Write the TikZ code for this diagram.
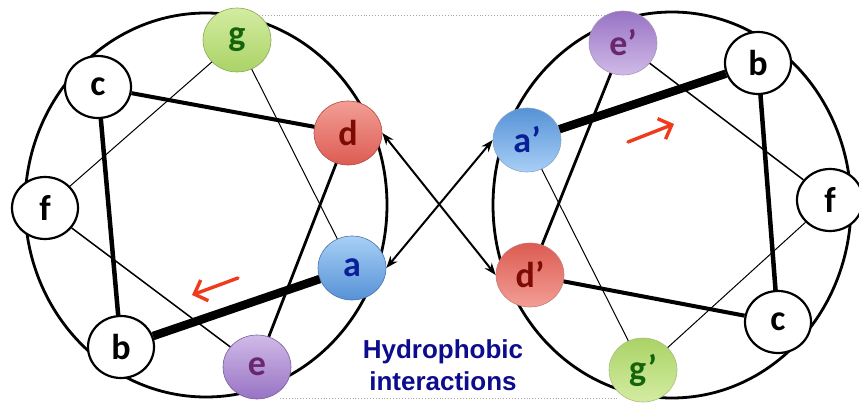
\documentclass[tikz,border=0pt]{standalone}
\usepackage{fontspec}
\setmainfont{Carlito}
\newfontfamily\hydfont{Liberation Sans}
\usetikzlibrary{arrows.meta,shapes.geometric}

\definecolor{gtop}{RGB}{212,236,162}
\definecolor{gbot}{RGB}{170,211,102}
\definecolor{gtxt}{RGB}{20,100,10}
\definecolor{dtop}{RGB}{243,158,150}
\definecolor{dbot}{RGB}{220,92,82}
\definecolor{dtxt}{RGB}{125,10,5}
\definecolor{atop}{RGB}{168,207,246}
\definecolor{abot}{RGB}{86,146,214}
\definecolor{atxt}{RGB}{10,30,150}
\definecolor{etop}{RGB}{208,186,232}
\definecolor{ebot}{RGB}{152,115,196}
\definecolor{etxt}{RGB}{105,40,110}
\definecolor{arrowred}{RGB}{240,58,28}
\definecolor{hydblue}{RGB}{12,12,140}

\begin{document}
\begin{tikzpicture}[x=1pt,y=-1pt,
  res/.style={ellipse,minimum width=68pt,minimum height=64pt,inner sep=0pt,
    font=\bfseries\fontsize{36}{36}\selectfont},
  wh/.style={res,draw,line width=2.2pt,fill=white,minimum width=66pt,minimum height=62pt},
  ballcol/.style n args={3}{res,draw=#2!80!black,line width=0.6pt,
    top color=#1,bottom color=#2,text=#3},
  gL/.style={ballcol={gtop}{gbot}{gtxt}},
  gR/.style={ballcol={gbot}{gtop}{gtxt}},
  dL/.style={ballcol={dtop}{dbot}{dtxt}},
  dR/.style={ballcol={dbot}{dtop}{dtxt}},
  aL/.style={ballcol={atop}{abot}{atxt}},
  aR/.style={ballcol={abot}{atop}{atxt}},
  eL/.style={ballcol={etop}{ebot}{etxt}},
  eR/.style={ballcol={ebot}{etop}{etxt}},
  swap/.style={<->,>={Stealth[length=12pt,width=9pt]},line width=2pt},
  move/.style={->,>={Straight Barb[length=11pt,width=22pt]},line width=3.4pt,
    draw=arrowred,line cap=round}]
\useasboundingbox (0,0) rectangle (859,403);
% faint dotted guides between the two wheels
\coordinate (topL) at (262,15);
\coordinate (topR) at (610,15);
\coordinate (botL) at (280,398);
\coordinate (botR) at (617,398);
\draw[gray!70,line width=0.9pt,dotted] (topL) -- (topR);
\draw[gray!70,line width=0.9pt,dotted] (botL) -- (botR);
% the two helical wheels
\draw[line width=2.8pt] (206,205) ellipse [x radius=181,y radius=192];
\draw[line width=2.8pt] (672,205) ellipse [x radius=179,y radius=193];
% residues: name/x/y/style/letter
\foreach \nm/\px/\py/\sty/\txt in {%
  lg/237/40/gL/g, lc/98/87/wh/c, ld/348/133/dL/d, lf/45/208/wh/f,%
  la/352/268/aL/a, lb/121/347/wh/b, le/257/367/eL/e,%
  re/623/43/eR/e’, rb/758/63/wh/b, ra/527/140/aR/a’, rf/830/200/wh/f,%
  rd/530/275/dR/d’, rc/778/322/wh/c, rg/643/370/gR/g’}{
  \node[\sty] (\nm) at (\px,\py) {\txt};
}
% backbone links, thicker toward the a--b edge
\foreach \p/\q/\w in {%
  lb/la/8.5pt, lc/lb/4.5pt, lc/ld/4pt, ld/le/2.8pt, lf/le/1.5pt, lg/lf/1pt, lg/la/1pt,%
  ra/rb/8.5pt, rb/rc/4.5pt, rc/rd/4pt, rd/re/2.8pt, re/rf/1.5pt, rf/rg/1pt, rg/ra/1pt}{
  \draw[line width=\w] (\p) -- (\q);
}
% a--a' and d--d' contacts across the interface
\draw[swap] (ld.east) -- (rd.west);
\draw[swap] (la.east) -- (ra.west);
% direction of the wheels
\coordinate (mvL1) at (238,278);
\coordinate (mvL2) at (192,295);
\coordinate (mvR1) at (628,142);
\coordinate (mvR2) at (674,124);
\draw[move] (mvL1) -- (mvL2);
\draw[move] (mvR1) -- (mvR2);
\node[align=center,text=hydblue,font=\hydfont\bfseries\fontsize{26}{32}\selectfont]
  (hyd) at (443,365) {Hydrophobic\\interactions};
\end{tikzpicture}
\end{document}
